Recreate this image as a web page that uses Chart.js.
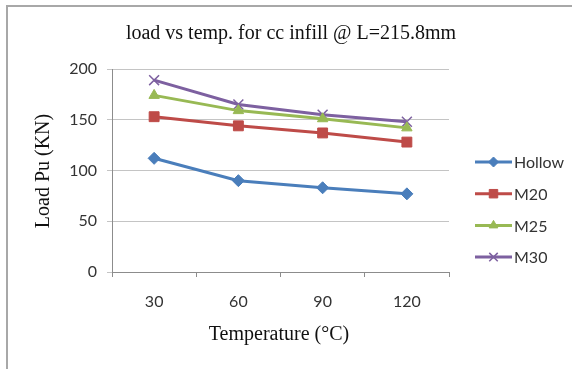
<!DOCTYPE html>
<html>
<head>
<meta charset="utf-8">
<script src="https://cdn.jsdelivr.net/npm/chart.js@4.4.0/dist/chart.umd.min.js"></script>
<style>
  body { margin: 0; background: #fff; }
  #wrap { width: 572px; height: 369px; position: relative; }
</style>
</head>
<body>
<div id="wrap"><canvas id="loadChart" width="572" height="369"></canvas></div>
<script>
// Chart data
const temps = ['30', '60', '90', '120'];
const seriesNames = ['Hollow', 'M20', 'M25', 'M30'];
const hollow = [112, 90, 83, 77];
const m20 = [153, 144, 137, 128];
const m25 = [174, 159, 151, 142];
const m30 = [189, 165, 155, 148];
const yTicks = [0, 50, 100, 150, 200];

const colors = ['#4a7ebb', '#be4b48', '#98b954', '#7d60a0'];
const markers = ['rectRot', 'rect', 'triangle', 'crossRot'];
const radii = [6, 7, 6, 7];
const values = [hollow, m20, m25, m30];

const tickFont = { family: 'Lato, "Open Sans", sans-serif', size: 16 };
const serif = '"Liberation Serif", "DejaVu Serif", serif';

// Draws frame, titles and legend by hand
const decorPlugin = {
    id: 'decor',
    beforeDraw(chart) {
        const ctx = chart.ctx;
        ctx.save();
        ctx.fillStyle = '#fff';
        ctx.fillRect(0, 0, chart.width, chart.height);
        ctx.strokeStyle = '#a8a8a8';
        ctx.lineWidth = 2;
        ctx.beginPath();
        ctx.moveTo(7, 369);
        ctx.lineTo(7, 6);
        ctx.lineTo(572, 6);
        ctx.stroke();
        ctx.restore();
    },
    afterDraw(chart) {
        const ctx = chart.ctx;
        ctx.save();
        ctx.fillStyle = '#111';
        ctx.textAlign = 'center';
        ctx.textBaseline = 'middle';
        ctx.font = '20px ' + serif;
        ctx.fillText('load vs temp. for cc infill @ L=215.8mm', 291, 34);
        ctx.fillText('Temperature (\u00B0C)', 279, 335);
        ctx.translate(44, 171);
        ctx.rotate(-Math.PI / 2);
        ctx.fillText('Load Pu (KN)', 0, 0);
        ctx.restore();

        // legend
        ctx.save();
        chart.data.datasets.forEach((ds, i) => {
            const y = 162 + i * 31.7;
            ctx.strokeStyle = ds.borderColor;
            ctx.lineWidth = 3;
            ctx.beginPath();
            ctx.moveTo(475, y);
            ctx.lineTo(512, y);
            ctx.stroke();
            ctx.fillStyle = ds.borderColor;
            ctx.strokeStyle = ds.borderColor;
            ctx.lineWidth = ds.pointStyle === 'crossRot' ? 1.5 : 1;
            Chart.helpers.drawPoint(ctx, {
                pointStyle: ds.pointStyle,
                radius: ds.pointRadius - 1,
                rotation: 0,
                borderWidth: ds.pointStyle === 'crossRot' ? 1.5 : 1
            }, 493.5, y);
            ctx.fillStyle = '#333';
            ctx.font = '16px ' + tickFont.family;
            ctx.textAlign = 'left';
            ctx.textBaseline = 'middle';
            ctx.fillText(ds.label, 514, y + 1);
        });
        ctx.restore();
    }
};

const datasets = seriesNames.map((name, i) => ({
    label: name,
    data: values[i],
    borderColor: colors[i],
    backgroundColor: colors[i],
    pointBackgroundColor: colors[i],
    pointBorderColor: colors[i],
    pointStyle: markers[i],
    pointRadius: radii[i],
    pointBorderWidth: markers[i] === 'crossRot' ? 1.5 : 1,
    borderWidth: 3,
    tension: 0
}));

new Chart(document.getElementById('loadChart'), {
    type: 'line',
    data: { labels: temps, datasets: datasets },
    options: {
        responsive: false,
        animation: false,
        devicePixelRatio: 1,
        layout: { padding: { left: 8, top: 69, right: 123, bottom: 57 } },
        plugins: {
            legend: { display: false },
            title: { display: false },
            tooltip: { enabled: false }
        },
        scales: {
            x: {
                offset: true,
                afterFit: s => { s.height = 40; },
                grid: {
                    offset: true,
                    drawOnChartArea: false,
                    color: '#8c8c8c',
                    tickLength: 5
                },
                border: { color: '#8c8c8c', width: 1 },
                ticks: { font: tickFont, color: '#333', padding: 15 }
            },
            y: {
                min: 0,
                max: 200,
                afterFit: s => { s.width = 104; },
                afterBuildTicks: s => { s.ticks = yTicks.map(v => ({ value: v })); },
                grid: { color: '#c4c4c4', tickLength: 5 },
                border: { color: '#8c8c8c', width: 1 },
                ticks: { font: tickFont, color: '#333', padding: 10 }
            }
        }
    },
    plugins: [decorPlugin]
});
</script>
</body>
</html>
